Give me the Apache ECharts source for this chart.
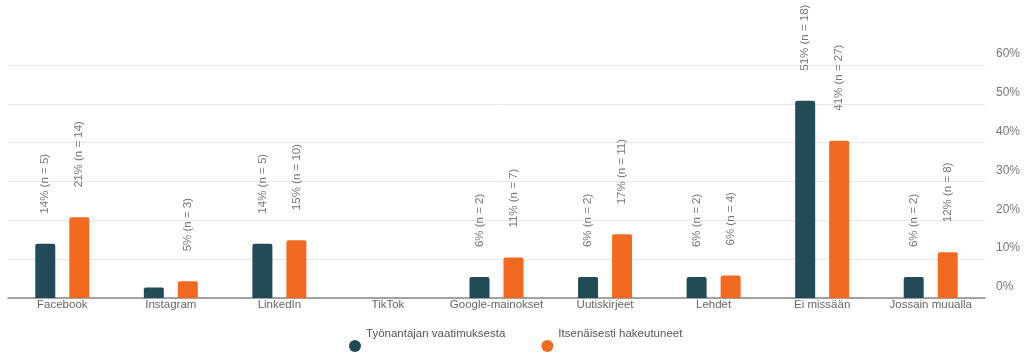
<!DOCTYPE html>
<html>
<head>
<meta charset="utf-8">
<script src="https://cdn.jsdelivr.net/npm/echarts@6/dist/echarts.min.js"></script>
<style>
  html, body { margin: 0; padding: 0; background: #fff; }
  #chart { width: 1025px; height: 354px; }
</style>
</head>
<body>
<div id="chart"></div>
<script>
// kategoriat
var categories = ['Facebook', 'Instagram', 'LinkedIn', 'TikTok', 'Google-mainokset', 'Uutiskirjeet', 'Lehdet', 'Ei missään', 'Jossain muualla'];
var seriesNames = ['Työnantajan vaatimuksesta', 'Itsenäisesti hakeutuneet'];
// prosentit
var employerValues = [14.0, 2.7, 14.0, 0, 5.4, 5.4, 5.4, 50.8, 5.4];
var selfValues = [20.8, 4.3, 14.9, 0, 10.4, 16.4, 5.8, 40.5, 11.8];
// palkkien tekstit
var employerLabels = ['14% (n = 5)', '', '14% (n = 5)', '', '6% (n = 2)', '6% (n = 2)', '6% (n = 2)', '51% (n = 18)', '6% (n = 2)'];
var selfLabels = ['21% (n = 14)', '5% (n = 3)', '15% (n = 10)', '', '11% (n = 7)', '17% (n = 11)', '6% (n = 4)', '41% (n = 27)', '12% (n = 8)'];
var yTicks = [0, 10, 20, 30, 40, 50, 60];

var myChart = echarts.init(document.getElementById('chart'));

function barLabel(texts) {
  return {
    show: true,
    position: 'top',
    rotate: 90,
    align: 'left',
    verticalAlign: 'middle',
    distance: 30,
    color: '#777',
    fontSize: 11.5,
    formatter: function (p) { return texts[p.dataIndex]; }
  };
}

var option = {
  animation: false,
  textStyle: { fontFamily: 'Liberation Sans, Arial, sans-serif' },
  color: ['#234a57', '#f26a22'],
  grid: { left: 8, right: 40, top: 65, bottom: 56 },
  legend: {
    left: 344,
    bottom: -21,
    icon: 'circle',
    itemWidth: 12,
    itemHeight: 12,
    itemGap: 36,
    textStyle: { color: '#555', fontSize: 11.5, lineHeight: 24 },
    formatter: function (name) { return name + '\n '; },
    data: seriesNames
  },
  xAxis: {
    type: 'category',
    data: categories,
    axisLine: { lineStyle: { color: '#888', width: 1.5 } },
    axisTick: { show: false },
    axisLabel: { color: '#666', fontSize: 11.5, margin: 1, interval: 0 }
  },
  yAxis: {
    type: 'value',
    position: 'right',
    min: yTicks[0],
    max: yTicks[yTicks.length - 1],
    interval: 10,
    axisLine: { show: false },
    axisTick: { show: false },
    splitLine: { lineStyle: { color: '#e8e8e8' } },
    axisLabel: {
      color: '#777',
      fontSize: 12,
      margin: 11,
      verticalAlign: 'bottom',
      padding: [0, 0, 5, 0],
      formatter: '{value}%'
    }
  },
  series: [
    {
      name: seriesNames[0],
      type: 'bar',
      data: employerValues,
      barWidth: 20,
      barGap: '70%',
      itemStyle: { borderRadius: [2, 2, 0, 0] },
      label: barLabel(employerLabels)
    },
    {
      name: seriesNames[1],
      type: 'bar',
      data: selfValues,
      barWidth: 20,
      barGap: '70%',
      itemStyle: { borderRadius: [2, 2, 0, 0] },
      label: barLabel(selfLabels)
    }
  ]
};

myChart.setOption(option);
</script>
</body>
</html>
